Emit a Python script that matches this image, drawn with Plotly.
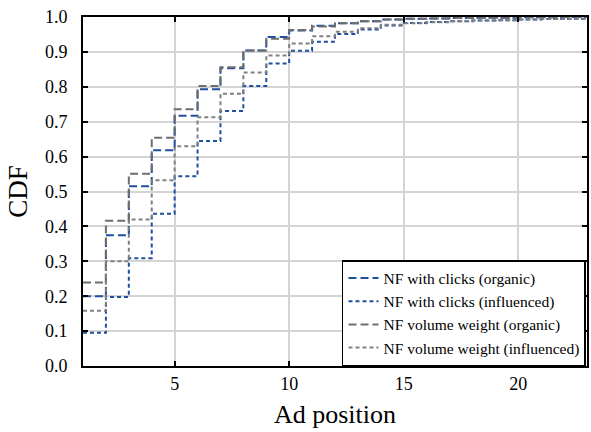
import plotly.graph_objects as go

positions = list(range(1, 24))
clicks_organic = [0.200, 0.375, 0.515, 0.618, 0.717, 0.793, 0.853, 0.904, 0.943, 0.961,
                  0.975, 0.982, 0.988, 0.993, 0.995, 0.996, 0.997, 0.998, 0.998, 0.999,
                  0.999, 1.000, 1.000]
clicks_influenced = [0.095, 0.198, 0.309, 0.436, 0.544, 0.645, 0.731, 0.802, 0.867, 0.903,
                     0.929, 0.951, 0.964, 0.976, 0.983, 0.986, 0.988, 0.990, 0.991, 0.993,
                     0.994, 0.995, 0.996]
volume_organic = [0.239, 0.416, 0.551, 0.654, 0.736, 0.802, 0.856, 0.904, 0.938, 0.963,
                  0.973, 0.982, 0.988, 0.993, 0.995, 0.996, 0.997, 0.998, 0.998, 0.999,
                  0.999, 1.000, 1.000]
volume_influenced = [0.158, 0.300, 0.420, 0.532, 0.630, 0.713, 0.780, 0.841, 0.890, 0.924,
                     0.945, 0.958, 0.968, 0.978, 0.982, 0.985, 0.988, 0.990, 0.991, 0.993,
                     0.994, 0.995, 0.996]

series = [
    ("NF with clicks (organic)", clicks_organic, "#1f4f9e", "8px,4px"),
    ("NF with clicks (influenced)", clicks_influenced, "#1f4f9e", "4px,3px"),
    ("NF volume weight (organic)", volume_organic, "#6e6e6e", "8px,4px"),
    ("NF volume weight (influenced)", volume_influenced, "#808080", "4px,3px"),
]

fig = go.Figure()
for name, vals, color, dash in series:
    fig.add_trace(go.Scatter(
        x=positions, y=vals, name=name, mode="lines", line_shape="hv",
        line=dict(color=color, width=2, dash=dash),
    ))

font_family = "Liberation Serif"
axis_common = dict(
    showline=True, linecolor="black", linewidth=2, mirror="ticks",
    ticks="inside", ticklen=5, tickwidth=1.5, tickcolor="black",
    showgrid=True, gridcolor="#d4d4d4", gridwidth=1.5, zeroline=False,
    tickfont=dict(family=font_family, size=18, color="black"),
    automargin=False,
)
fig.update_xaxes(range=[1, 23], tickvals=[5, 10, 15, 20],
                 title=dict(text="Ad position", font=dict(family=font_family, size=26, color="black"), standoff=12),
                 **axis_common)
fig.update_yaxes(range=[0, 1], tickvals=[i / 10 for i in range(11)],
                 tickformat=".1f", ticklabelstandoff=10,
                 title=dict(text="CDF", font=dict(family=font_family, size=27, color="black"), standoff=9),
                 **axis_common)

fig.update_layout(
    width=591, height=432,
    margin=dict(l=83, r=4, t=17, b=66),
    plot_bgcolor="white", paper_bgcolor="white",
    font=dict(family=font_family, color="black"),
    legend=dict(
        x=0.998, y=0.0, xanchor="right", yanchor="bottom",
        bgcolor="white", bordercolor="black", borderwidth=1.5,
        font=dict(family=font_family, size=15.5, color="black"),
        itemwidth=30, tracegroupgap=0,
    ),
    showlegend=True,
)

fig.write_html("out.html", config={"displayModeBar": False},
               post_script="document.body.style.margin='0';")
